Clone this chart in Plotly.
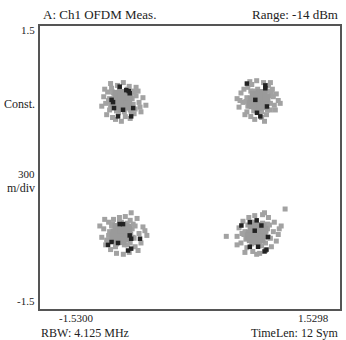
import plotly.graph_objects as go

# Cluster centres (I, Q)
centre_i = [-0.70, 0.70, -0.70, 0.68]
centre_q = [0.71, 0.71, -0.70, -0.70]

# Scattered gray symbols: offsets from each cluster centre
tl_gray_di = [0.12, 0.15, 0.18, 0.22, 0.10, 0.14, 0.19, 0.08, 0.02, -0.04, -0.10, -0.14, -0.18, -0.16, -0.12, -0.20, -0.15, -0.09, -0.03, 0.04, 0.09, 0.13, 0.17, 0.06, -0.06, -0.11, 0.11, 0.20, -0.17, 0.00, 0.15, -0.13, 0.07, -0.08, 0.25,
              0.10, 0.12, 0.06, -0.02, -0.09, -0.12, -0.11, -0.05, 0.03, 0.09, 0.13, -0.13]
tl_gray_dq = [0.10, 0.05, -0.02, 0.03, -0.12, -0.09, -0.07, 0.15, 0.19, 0.16, 0.13, 0.09, 0.04, -0.03, -0.10, -0.06, -0.15, -0.18, -0.13, -0.17, -0.19, -0.14, 0.10, 0.12, -0.20, 0.18, 0.02, -0.12, 0.12, -0.22, 0.14, 0.00, -0.08, 0.08, -0.05,
              0.06, -0.04, 0.11, 0.12, 0.09, 0.02, -0.06, -0.11, -0.12, -0.10, 0.09, -0.01]
tr_gray_di = [-0.22, -0.18, -0.15, -0.20, -0.12, -0.08, -0.04, 0.03, 0.08, 0.12, 0.16, 0.20, 0.18, 0.14, 0.10, 0.05, -0.02, -0.07, -0.11, -0.16, 0.22, 0.15, -0.05, 0.01, 0.09, -0.14, 0.17, -0.09, 0.12, -0.19, 0.06,
              0.11, 0.12, 0.07, -0.01, -0.08, -0.12, -0.11, -0.05, 0.03, 0.09, 0.13, -0.13]
tr_gray_dq = [0.02, 0.08, 0.12, -0.07, -0.12, -0.17, -0.20, -0.18, -0.15, -0.10, -0.05, 0.00, 0.07, 0.12, 0.16, 0.19, 0.21, 0.17, 0.14, -0.02, -0.03, 0.04, 0.10, -0.12, 0.10, -0.15, -0.10, 0.20, 0.19, 0.00, -0.22,
              0.05, -0.03, 0.11, 0.12, 0.10, 0.03, -0.06, -0.11, -0.12, -0.10, 0.08, -0.01]
bl_gray_di = [0.10, 0.16, 0.22, 0.26, 0.20, 0.14, 0.08, 0.02, -0.05, -0.11, -0.16, -0.20, -0.18, -0.13, -0.08, -0.02, 0.04, 0.12, 0.18, 0.24, -0.22, -0.15, 0.06, -0.06, 0.13, 0.00, -0.10, 0.17, 0.09, -0.17,
              0.11, 0.12, 0.06, -0.02, -0.09, -0.12, -0.11, -0.05, 0.03, 0.09, 0.14, -0.13]
bl_gray_dq = [0.22, 0.16, 0.07, -0.02, -0.10, -0.14, -0.20, -0.22, -0.21, -0.17, -0.12, -0.04, 0.05, 0.12, 0.15, 0.17, 0.18, 0.10, 0.00, 0.03, 0.08, -0.07, -0.12, -0.14, -0.05, 0.12, 0.08, -0.18, 0.14, 0.15,
              0.05, -0.04, 0.11, 0.12, 0.10, 0.02, -0.07, -0.11, -0.12, -0.10, 0.08, -0.02]
br_gray_di = [0.29, -0.31, 0.23, 0.18, 0.12, 0.06, -0.02, -0.08, -0.14, -0.18, -0.20, -0.16, -0.10, -0.04, 0.03, 0.09, 0.15, 0.20, 0.22, 0.17, -0.12, 0.11, -0.06, 0.05, -0.15, 0.14, 0.00, -0.20, 0.25, 0.08,
              0.11, 0.12, 0.06, -0.02, -0.09, -0.12, -0.11, -0.05, 0.03, 0.09, 0.13, -0.13]
br_gray_dq = [0.26, -0.03, 0.05, 0.12, 0.17, 0.20, 0.19, 0.17, 0.13, 0.06, -0.03, -0.10, -0.15, -0.19, -0.21, -0.18, -0.14, -0.08, -0.01, 0.02, -0.20, 0.10, 0.12, -0.13, 0.00, -0.05, -0.22, -0.12, 0.08, 0.22,
              0.05, -0.04, 0.11, 0.12, 0.09, 0.02, -0.06, -0.11, -0.12, -0.10, 0.09, -0.01]

# Dense core symbols
tl_core_di = [0.00, 0.05, -0.05, 0.03, -0.03, 0.07, -0.07, 0.00, 0.00, 0.05, -0.05, 0.04, -0.04, 0.08, -0.08, 0.02, -0.02, 0.06, -0.06, 0.00]
tl_core_dq = [0.00, 0.02, 0.03, 0.06, -0.05, -0.02, 0.00, 0.08, -0.08, -0.06, 0.07, -0.03, 0.04, 0.04, -0.03, -0.04, 0.01, 0.07, -0.06, 0.04]
tr_core_di = [0.00, 0.04, -0.05, 0.02, -0.03, 0.07, -0.07, 0.01, -0.01, 0.06, -0.05, 0.04, -0.03, 0.08, -0.08, 0.02, -0.02, 0.05, -0.06, 0.00]
tr_core_dq = [0.01, 0.03, 0.02, 0.06, -0.05, -0.01, 0.01, 0.08, -0.07, -0.06, 0.06, -0.03, 0.05, 0.03, -0.04, -0.05, 0.00, 0.07, -0.05, 0.04]
bl_core_di = [0.01, 0.05, -0.04, 0.03, -0.03, 0.08, -0.07, 0.00, 0.01, 0.05, -0.05, 0.04, -0.04, 0.07, -0.08, 0.02, -0.02, 0.06, -0.06, 0.00]
bl_core_dq = [0.00, 0.01, 0.03, 0.07, -0.05, -0.02, 0.01, 0.08, -0.08, -0.05, 0.07, -0.03, 0.04, 0.04, -0.02, -0.04, 0.01, 0.06, -0.06, 0.04]
br_core_di = [0.00, 0.05, -0.05, 0.03, -0.03, 0.07, -0.07, 0.00, 0.00, 0.05, -0.05, 0.04, -0.04, 0.08, -0.08, 0.02, -0.02, 0.06, -0.06, 0.00]
br_core_dq = [0.00, 0.02, 0.03, 0.06, -0.05, -0.02, 0.00, 0.08, -0.08, -0.06, 0.07, -0.03, 0.04, 0.04, -0.03, -0.04, 0.01, 0.07, -0.06, 0.04]

# Black symbols
tl_black_di = [0.05, 0.085, 0.075, -0.10, -0.085, 0.017, -0.034, 0.10, -0.075, 0.12, -0.017]
tl_black_dq = [0.11, 0.077, 0.10, 0.007, -0.017, -0.098, -0.168, -0.168, -0.08, -0.08, 0.147]
tr_black_di = [-0.12, 0.068, -0.034, 0.085, -0.017, 0.017, 0.068]
tr_black_dq = [0.18, 0.16, 0.007, -0.063, -0.13, -0.168, 0.13]
bl_black_di = [-0.017, 0.017, 0.085, 0.10, -0.10, -0.136, 0.10, 0.068, 0.19, -0.034]
bl_black_dq = [0.10, 0.10, -0.02, -0.055, -0.09, -0.12, -0.16, -0.18, -0.055, -0.10]
br_black_di = [-0.07, 0.00, 0.048, -0.156, -0.02, 0.115, -0.07, 0.08, 0.10, 0.014]
br_black_dq = [0.12, 0.14, 0.085, 0.085, 0.03, -0.036, -0.14, -0.19, -0.17, -0.14]

gray_di = [tl_gray_di, tr_gray_di, bl_gray_di, br_gray_di]
gray_dq = [tl_gray_dq, tr_gray_dq, bl_gray_dq, br_gray_dq]
core_di = [tl_core_di, tr_core_di, bl_core_di, br_core_di]
core_dq = [tl_core_dq, tr_core_dq, bl_core_dq, br_core_dq]
black_di = [tl_black_di, tr_black_di, bl_black_di, br_black_di]
black_dq = [tl_black_dq, tr_black_dq, bl_black_dq, br_black_dq]


def place(di_lists, dq_lists):
    xs, ys = [], []
    for ci, cq, dis, dqs in zip(centre_i, centre_q, di_lists, dq_lists):
        xs += [ci + d for d in dis]
        ys += [cq + d for d in dqs]
    return xs, ys


fig = go.Figure()
gx, gy = place(gray_di, gray_dq)
fig.add_trace(go.Scatter(x=gx, y=gy, mode="markers",
                         marker=dict(symbol="square", size=5, color="#a2a2a2", line=dict(width=0))))
cx, cy = place(core_di, core_dq)
fig.add_trace(go.Scatter(x=cx, y=cy, mode="markers",
                         marker=dict(symbol="square", size=8, color="#9a9a9a", line=dict(width=0))))
bx, by = place(black_di, black_dq)
fig.add_trace(go.Scatter(x=bx, y=by, mode="markers",
                         marker=dict(symbol="square", size=4.5, color="#222222", line=dict(width=0))))

ann = [
    dict(text="A: Ch1 OFDM Meas.", x=0.003, y=1.042, xanchor="left", size=13),
    dict(text="Range: -14 dBm", x=1.0, y=1.042, xanchor="right", size=13),
    dict(text="1.5", x=-0.01, y=0.986, xanchor="right", size=11),
    dict(text="Const.", x=-0.01, y=0.724, xanchor="right", size=12),
    dict(text="300", x=-0.01, y=0.478, xanchor="right", size=11),
    dict(text="m/div", x=-0.01, y=0.428, xanchor="right", size=12),
    dict(text="-1.5", x=-0.01, y=0.028, xanchor="right", size=11),
    dict(text="-1.5300", x=0.12, y=-0.032, xanchor="center", size=11),
    dict(text="1.5298", x=0.97, y=-0.032, xanchor="right", size=11),
    dict(text="RBW: 4.125 MHz", x=-0.003, y=-0.085, xanchor="left", size=12),
    dict(text="TimeLen: 12 Sym", x=1.003, y=-0.085, xanchor="right", size=12),
]
for a in ann:
    size = a.pop("size")
    fig.add_annotation(xref="paper", yref="paper", yanchor="middle", showarrow=False,
                       font=dict(family="Liberation Serif", size=size, color="#222222"), **a)

fig.update_layout(
    width=346, height=340,
    margin=dict(l=40, r=4, t=26, b=31),
    paper_bgcolor="white", plot_bgcolor="white",
    showlegend=False,
    xaxis=dict(range=[-1.53, 1.5298], showgrid=False, zeroline=False, showticklabels=False,
               ticks="", showline=True, mirror=True, linecolor="#555555", linewidth=2),
    yaxis=dict(range=[-1.5, 1.5], showgrid=False, zeroline=False, showticklabels=False,
               ticks="", showline=True, mirror=True, linecolor="#555555", linewidth=2),
)

fig.write_html("out.html")
